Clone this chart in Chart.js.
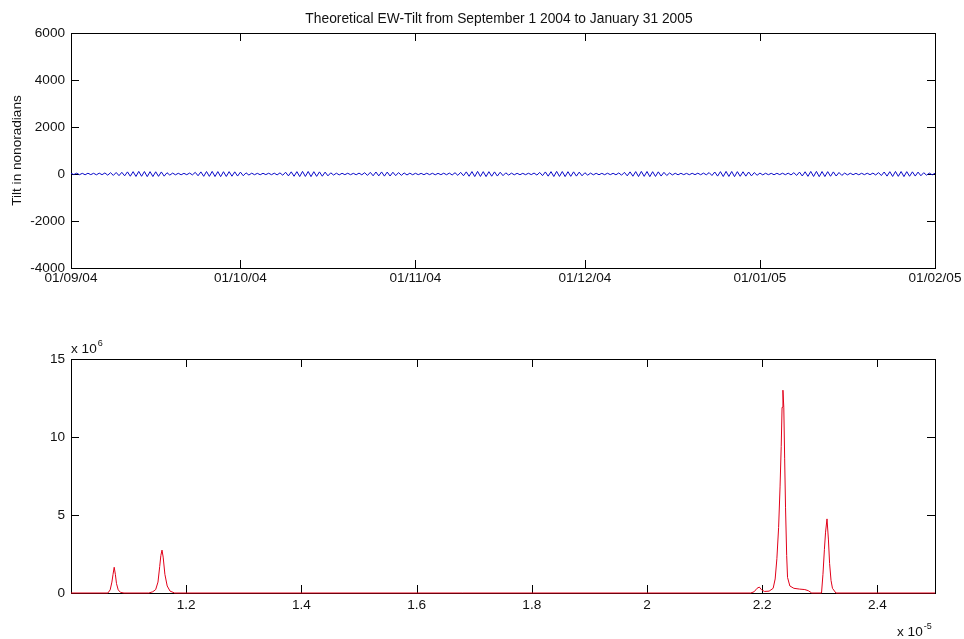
<!DOCTYPE html>
<html>
<head>
<meta charset="utf-8">
<title>EW-Tilt</title>
<script src="https://cdn.jsdelivr.net/npm/chart.js@4.4.1/dist/chart.umd.min.js"></script>
<style>
  body { margin: 0; background: #fff; }
  #wrap { position: relative; width: 964px; height: 639px; }
  canvas { position: absolute; left: 0; }
</style>
</head>
<body>
<div id="wrap">
  <canvas id="tiltChart" width="964" height="320" style="top:0"></canvas>
  <canvas id="spectrumChart" width="964" height="319" style="top:320px"></canvas>
</div>
<script>
// tilt samples, one every 12 hours starting 01/09/04 (nanoradians)
const sampleStepDays = 0.5;
const tilt = [
  30,-25,35,-30,28,-32,33,-27,30,-35,36,-30,45,-50,55,-60,65,-70,72,-78,
  90,-95,100,-105,110,-98,105,-112,100,-108,95,-100,88,-92,55,-48,38,-35,30,-33,
  28,-30,40,-38,70,-75,90,-98,105,-100,110,-108,102,-112,98,-105,100,-95,92,-88,
  80,-75,50,-45,35,-30,28,-32,30,-27,33,-30,35,-38,48,-52,75,-80,92,-96,
  100,-108,110,-104,106,-112,98,-100,90,-95,80,-78,50,-45,35,-38,30,-28,32,-30,
  28,-33,38,-35,55,-60,70,-76,85,-80,88,-90,82,-86,75,-70,60,-58,45,-42,
  35,-32,30,-28,27,-30,32,-29,30,-33,28,-30,34,-32,38,-42,55,-58,70,-75,
  90,-96,102,-108,110,-104,100,-110,98,-95,90,-88,75,-70,50,-46,36,-34,30,-32,
  28,-30,32,-27,40,-45,65,-70,88,-92,100,-106,110,-102,104,-110,98,-100,92,-90,
  80,-76,55,-50,38,-35,30,-32,28,-30,33,-28,30,-34,45,-50,70,-78,90,-95,
  102,-108,110,-100,106,-112,98,-104,92,-88,70,-65,45,-40,32,-35,30,-28,27,-31,
  30,-28,34,-32,38,-35,60,-65,85,-90,100,-106,110,-104,106,-112,100,-98,95,-92,
  85,-80,60,-55,40,-38,32,-30,28,-32,30,-27,33,-30,36,-40,55,-60,80,-85,
  95,-100,108,-104,110,-112,104,-108,100,-96,90,-86,65,-60,40,-38,32,-30,28,-33,
  30,-28,33,-30,38,-42,60,-66,85,-90,98,-104,108,-100,104,-110,100,-96,92,-88,
  80,-75,55,-50,38,-35,30
];
const dayTicks = [0, 30, 61, 91, 122, 153];
const dateLabels = ['01/09/04', '01/10/04', '01/11/04', '01/12/04', '01/01/05', '01/02/05'];
const tiltTicks = [-4000, -2000, 0, 2000, 4000, 6000];

// spectrum: frequency (x 10^-5) and power (x 10^6)
const freq = [
  1.0, 1.064, 1.068, 1.071, 1.073, 1.075, 1.077, 1.079, 1.082, 1.086, 1.092,
  1.135, 1.142, 1.147, 1.151, 1.154, 1.156, 1.158, 1.160, 1.163, 1.167, 1.172, 1.180,
  2.180, 2.186, 2.191, 2.195, 2.199, 2.204, 2.212, 2.219, 2.2225, 2.2255, 2.2285, 2.231,
  2.233, 2.2345, 2.236, 2.2375, 2.239, 2.2405, 2.2425, 2.244, 2.248, 2.255, 2.265, 2.274,
  2.280, 2.286,
  2.303, 2.3055, 2.308, 2.310, 2.3125, 2.315, 2.317, 2.3195, 2.322, 2.328, 2.5
];
const power = [
  0, 0, 0.2, 0.7, 1.2, 1.65, 1.2, 0.6, 0.2, 0.04, 0,
  0, 0.08, 0.22, 0.7, 1.7, 2.4, 2.75, 2.3, 1.2, 0.45, 0.12, 0,
  0, 0.08, 0.3, 0.38, 0.2, 0.1, 0.12, 0.3, 0.9, 2.2, 4.2, 6.8,
  9.4, 11.9, 13.0, 11.9, 8.6, 5.5, 2.4, 1.0, 0.45, 0.3, 0.25, 0.22,
  0.15, 0,
  0, 1.2, 2.8, 3.9, 4.75, 3.4, 1.9, 0.8, 0.3, 0, 0
];
const freqTicks = [1.2, 1.4, 1.6, 1.8, 2, 2.2, 2.4];
const powerTicks = [0, 5, 10, 15];

const FONT = '"Liberation Sans", Arial, sans-serif';
Chart.defaults.font.family = FONT;
Chart.defaults.font.size = 13.6;
Chart.defaults.color = '#111';

// box round the axes plus inward tick marks, matlab style
const frame = {
  id: 'frame',
  beforeDatasetsDraw(chart) {
    const { ctx, chartArea: a, scales } = chart;
    ctx.save();
    ctx.strokeStyle = '#000';
    ctx.lineWidth = 1;
    ctx.strokeRect(a.left + 0.5, a.top + 0.5, a.right - a.left, a.bottom - a.top);
    ctx.beginPath();
    scales.x.ticks.forEach(t => {
      const px = Math.round(scales.x.getPixelForValue(t.value)) + 0.5;
      ctx.moveTo(px, a.bottom); ctx.lineTo(px, a.bottom - 8);
      ctx.moveTo(px, a.top); ctx.lineTo(px, a.top + 8);
    });
    scales.y.ticks.forEach(t => {
      const py = Math.round(scales.y.getPixelForValue(t.value)) + 0.5;
      ctx.moveTo(a.left, py); ctx.lineTo(a.left + 8, py);
      ctx.moveTo(a.right, py); ctx.lineTo(a.right - 8, py);
    });
    ctx.stroke();
    ctx.restore();
  }
};

function fixedTicks(values) {
  return scale => { scale.ticks = values.map(v => ({ value: v })); };
}

const tiltTitle = {
  id: 'tiltTitle',
  afterDraw(chart) {
    const { ctx, chartArea: a } = chart;
    ctx.save();
    ctx.fillStyle = '#111';
    ctx.font = '13.8px ' + FONT;
    ctx.textAlign = 'center';
    ctx.textBaseline = 'middle';
    ctx.fillText('Theoretical EW-Tilt from September 1 2004 to January 31 2005', 499, 19);
    ctx.restore();
  }
};

const tiltChart = new Chart(document.getElementById('tiltChart'), {
  type: 'line',
  data: {
    datasets: [{
      data: tilt.map((v, i) => ({ x: i * sampleStepDays, y: v })),
      borderColor: 'rgb(10,10,200)',
      borderWidth: 1,
      pointRadius: 0,
      tension: 0
    }]
  },
  options: {
    responsive: false,
    animation: false,
    devicePixelRatio: 1,
    layout: { padding: { top: 33, right: 29, left: 0, bottom: 0 } },
    plugins: { legend: { display: false }, tooltip: { enabled: false } },
    scales: {
      x: {
        type: 'linear',
        min: 0,
        max: 153,
        afterBuildTicks: fixedTicks(dayTicks),
        afterFit: s => { s.height = 52; },
        grid: { display: false, drawTicks: false },
        border: { display: false },
        ticks: {
          autoSkip: false,
          maxRotation: 0,
          padding: 2,
          callback: v => dateLabels[dayTicks.indexOf(v)]
        }
      },
      y: {
        min: -4000,
        max: 6000,
        afterBuildTicks: fixedTicks(tiltTicks),
        afterFit: s => { s.width = 71; },
        grid: { display: false, drawTicks: false },
        border: { display: false },
        ticks: { padding: 6, callback: v => String(v) },
        title: { display: true, text: 'Tilt in nonoradians', padding: { top: 9, bottom: 0 } }
      }
    }
  },
  plugins: [frame, tiltTitle]
});

const multipliers = {
  id: 'multipliers',
  afterDraw(chart) {
    const { ctx } = chart;
    ctx.save();
    ctx.fillStyle = '#111';
    ctx.textBaseline = 'alphabetic';
    ctx.textAlign = 'left';
    ctx.font = '13.6px ' + FONT;
    ctx.fillText('x 10', 71, 33);
    ctx.fillText('x 10', 897, 316);
    const w = ctx.measureText('x 10').width;
    ctx.font = '9px ' + FONT;
    ctx.fillText('6', 71 + w + 1, 26);
    ctx.fillText('-5', 897 + w + 1, 309);
    ctx.restore();
  }
};

const spectrumChart = new Chart(document.getElementById('spectrumChart'), {
  type: 'line',
  data: {
    datasets: [{
      data: freq.map((f, i) => ({ x: f, y: power[i] })),
      borderColor: 'rgb(225,0,25)',
      borderWidth: 1,
      pointRadius: 0,
      tension: 0,
      clip: 4
    }]
  },
  options: {
    responsive: false,
    animation: false,
    devicePixelRatio: 1,
    layout: { padding: { top: 39, right: 29, left: 0, bottom: 0 } },
    plugins: { legend: { display: false }, tooltip: { enabled: false } },
    scales: {
      x: {
        type: 'linear',
        min: 1.0,
        max: 2.5,
        afterBuildTicks: fixedTicks(freqTicks),
        afterFit: s => { s.height = 46; },
        grid: { display: false, drawTicks: false },
        border: { display: false },
        ticks: { autoSkip: false, maxRotation: 0, padding: 4, callback: v => String(v) }
      },
      y: {
        min: 0,
        max: 15,
        afterBuildTicks: fixedTicks(powerTicks),
        afterFit: s => { s.width = 71; },
        grid: { display: false, drawTicks: false },
        border: { display: false },
        ticks: { padding: 6, callback: v => String(v) }
      }
    }
  },
  plugins: [frame, multipliers]
});
</script>
</body>
</html>
